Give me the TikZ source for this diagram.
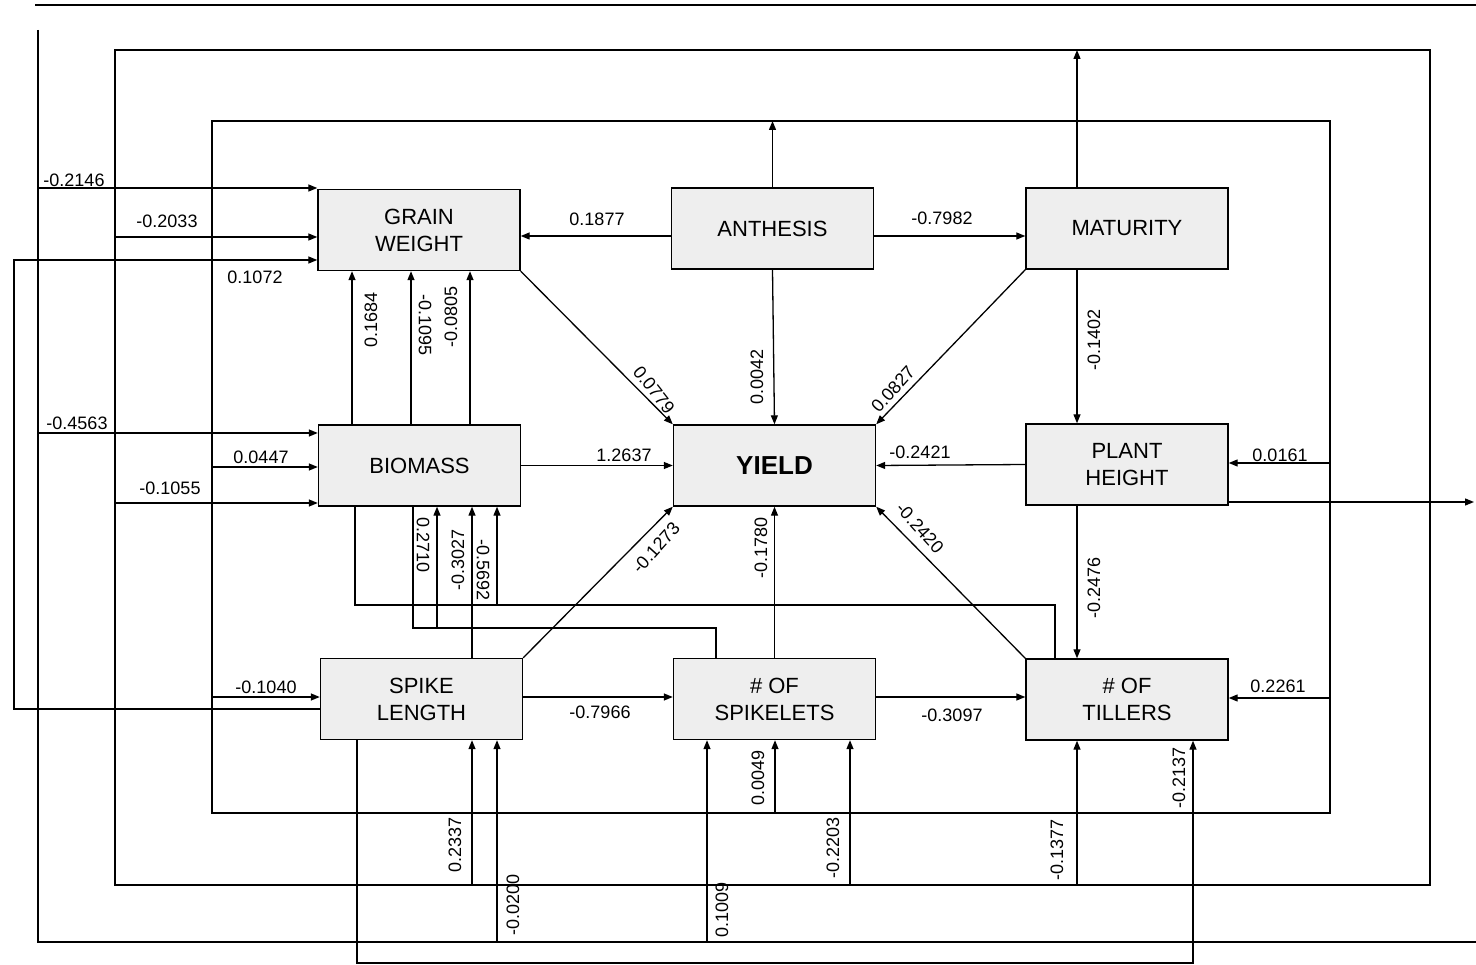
\documentclass[tikz,border=0pt]{standalone}
\usepackage{fontspec}
\setmainfont{Liberation Sans}
\usetikzlibrary{arrows.meta}
\begin{document}
\begin{tikzpicture}[x=1pt,y=-1pt,
  box/.style={draw, line width=1.4pt, fill=gray!13, minimum width=202pt, minimum height=81pt,
    font=\fontsize{22}{27}\selectfont, align=center, inner sep=0pt},
  ln/.style={line width=1.3pt},
  ar/.style={ln, -{Triangle[length=9pt,width=7pt]}},
  lab/.style={font=\fontsize{18}{20}\selectfont, inner sep=1pt},
]
\useasboundingbox (0,0) rectangle (1476,965);

% boxes
\node[box] (gw) at (419,230) {GRAIN\\WEIGHT};
\node[box] (anth) at (772.5,228.5) {ANTHESIS};
\node[box] (mat) at (1127,228.5) {MATURITY};
\node[box] (bio) at (419.5,465.5) {BIOMASS};
\node[box, font=\bfseries\fontsize{26}{30}\selectfont] (yield) at (774.5,465.5) {YIELD};
\node[box] (ph) at (1127,464.5) {PLANT\\HEIGHT};
\node[box] (sl) at (421.5,699) {SPIKE\\LENGTH};
\node[box] (spk) at (774.5,699) {\# OF\\SPIKELETS};
\node[box] (til) at (1127,699.5) {\# OF\\TILLERS};

% top rule
\coordinate (t1) at (35,5);
\coordinate (t2) at (1476,5);
\draw[ln] (t1) -- (t2);

% rail coordinates
\coordinate (aTop) at (14,260);
\coordinate (aBot) at (14,709);
\coordinate (bTop) at (38,30);
\coordinate (bBot) at (38,942);
\coordinate (bEnd) at (1476,942);
\coordinate (cTL) at (115,50);
\coordinate (cTR) at (1430,50);
\coordinate (cBR) at (1430,885);
\coordinate (cBL) at (115,885);
\coordinate (dTL) at (212,121);
\coordinate (dTR) at (1330,121);
\coordinate (dBR) at (1330,813);
\coordinate (dBL) at (212,813);
\coordinate (m1) at (1077,50);

% loop A: spike length -> grain weight
\draw[ar] (sl.west |- aBot) -- (aBot) -- (aTop) -- (gw.west |- aTop);

% loop B: plant height feed
\draw[ln] (bTop) -- (bBot) -- (bEnd);
\coordinate (b1) at (38,188);
\coordinate (b2) at (38,433);
\coordinate (b3) at (497,942);
\coordinate (b4) at (707,942);
\draw[ar] (b1) -- (b1 -| gw.west);
\draw[ar] (b2) -- (b2 -| bio.west);
\draw[ar] (b3) -- (b3 |- sl.south);
\draw[ar] (b4) -- (b4 |- spk.south);
\coordinate (h3) at (0,502);
\coordinate (h3e) at (1474,502);
\draw[ar] (ph.east |- h3) -- (h3e);

% loop C: maturity
\draw[ln] (cTL) -- (cTR) -- (cBR) -- (cBL) -- cycle;
\draw[ar] (m1 |- mat.north) -- (m1);
\coordinate (c1) at (115,237);
\coordinate (c2) at (115,503);
\coordinate (c3) at (472,885);
\coordinate (c4) at (850,885);
\coordinate (c5) at (1077,885);
\draw[ar] (c1) -- (c1 -| gw.west);
\draw[ar] (c2) -- (c2 -| bio.west);
\draw[ar] (c3) -- (c3 |- sl.south);
\draw[ar] (c4) -- (c4 |- spk.south);
\draw[ar] (c5) -- (c5 |- til.south);

% loop D: anthesis
\draw[ln] (dTL) -- (dTR) -- (dBR) -- (dBL) -- cycle;
\draw[ar] (anth.north) -- (anth.north |- dTL);
\coordinate (d1) at (212,467);
\coordinate (d2) at (212,697);
\coordinate (d3) at (775,813);
\coordinate (d4) at (1330,463);
\coordinate (d5) at (1330,698);
\draw[ar] (d1) -- (d1 -| bio.west);
\draw[ar] (d2) -- (d2 -| sl.west);
\draw[ar] (d3) -- (d3 |- spk.south);
\draw[ar] (d4) -- (d4 -| ph.east);
\draw[ar] (d5) -- (d5 -| til.east);

% loop E: spike length -> tillers
\coordinate (e1) at (357,963);
\coordinate (e2) at (1193,963);
\draw[ar] (e1 |- sl.south) -- (e1) -- (e2) -- (e2 |- til.south);

% central connectors
\coordinate (h1) at (0,236);
\coordinate (h2) at (0,697);
\draw[ar] (anth.west |- h1) -- (gw.east |- h1);
\draw[ar] (anth.east |- h1) -- (mat.west |- h1);
\draw[ar] (anth.south) -- (yield.north);
\draw[ar] (mat.south west) -- (yield.north east);
\draw[ar] (m1 |- mat.south) -- (m1 |- ph.north);
\draw[ar] (gw.south east) -- (yield.north west);
\draw[ar] (bio.east) -- (yield.west);
\draw[ar] (ph.west) -- (yield.east);
\draw[ar] (sl.north east) -- (yield.south west);
\draw[ar] (spk.north) -- (yield.south);
\draw[ar] (til.north west) -- (yield.south east);
\draw[ar] (m1 |- ph.south) -- (m1 |- til.north);
\draw[ar] (sl.east |- h2) -- (spk.west |- h2);
\draw[ar] (spk.east |- h2) -- (til.west |- h2);

% arrows into grain weight from below
\coordinate (g1) at (352,0);
\coordinate (g2) at (411,0);
\coordinate (g3) at (470,0);
\draw[ar] (g1 |- bio.north) -- (g1 |- gw.south);
\draw[ar] (g2 |- bio.north) -- (g2 |- gw.south);
\draw[ar] (g3 |- bio.north) -- (g3 |- gw.south);

% below biomass
\coordinate (p1) at (355,605);
\coordinate (p2) at (1055,605);
\coordinate (p3) at (497,605);
\draw[ln] (p1 |- bio.south) -- (p1) -- (p2) -- (p2 |- til.north);
\draw[ar] (p3) -- (p3 |- bio.south);
\coordinate (q1) at (413,628);
\coordinate (q2) at (716,628);
\coordinate (q3) at (437,628);
\draw[ln] (q1 |- bio.south) -- (q1) -- (q2) -- (q2 |- spk.north);
\draw[ar] (q3) -- (q3 |- bio.south);
\coordinate (s1) at (472,0);
\draw[ar] (s1 |- sl.north) -- (s1 |- bio.south);

% labels
\node[lab] (l1) at (74,180) {-0.2146};
\node[lab] (l2) at (167,221) {-0.2033};
\node[lab] (l3) at (255,277) {0.1072};
\node[lab] (l4) at (597,219) {0.1877};
\node[lab] (l5) at (942,218) {-0.7982};
\node[lab, rotate=90] (l6) at (371,320) {0.1684};
\node[lab, rotate=-90] (l7) at (425,325) {-0.1095};
\node[lab, rotate=90] (l8) at (451,317) {-0.0805};
\node[lab, rotate=-52] (l9) at (654,390) {0.0779};
\node[lab, rotate=90] (l10) at (757,377) {0.0042};
\node[lab, rotate=48] (l11) at (893,389) {0.0827};
\node[lab, rotate=90] (l12) at (1094,340) {-0.1402};
\node[lab] (l13) at (77,423) {-0.4563};
\node[lab] (l14) at (261,457) {0.0447};
\node[lab] (l15) at (170,488) {-0.1055};
\node[lab] (l16) at (624,455) {1.2637};
\node[lab] (l17) at (920,452) {-0.2421};
\node[lab] (l18) at (1280,455) {0.0161};
\node[lab, rotate=-90] (l19) at (423,545) {0.2710};
\node[lab, rotate=90] (l20) at (458,560) {-0.3027};
\node[lab, rotate=-90] (l21) at (483,570) {-0.5692};
\node[lab, rotate=48] (l22) at (656,548) {-0.1273};
\node[lab, rotate=90] (l23) at (761,548) {-0.1780};
\node[lab, rotate=-48] (l24) at (920,528) {-0.2420};
\node[lab, rotate=90] (l25) at (1094,588) {-0.2476};
\node[lab] (l26) at (266,687) {-0.1040};
\node[lab] (l27) at (600,712) {-0.7966};
\node[lab] (l28) at (952,715) {-0.3097};
\node[lab] (l29) at (1278,686) {0.2261};
\node[lab, rotate=90] (l30) at (758,778) {0.0049};
\node[lab, rotate=90] (l31) at (1179,778) {-0.2137};
\node[lab, rotate=90] (l32) at (455,845) {0.2337};
\node[lab, rotate=90] (l33) at (833,848) {-0.2203};
\node[lab, rotate=90] (l34) at (1057,850) {-0.1377};
\node[lab, rotate=90] (l35) at (513,905) {-0.0200};
\node[lab, rotate=90] (l36) at (722,910) {0.1009};
\end{tikzpicture}
\end{document}
